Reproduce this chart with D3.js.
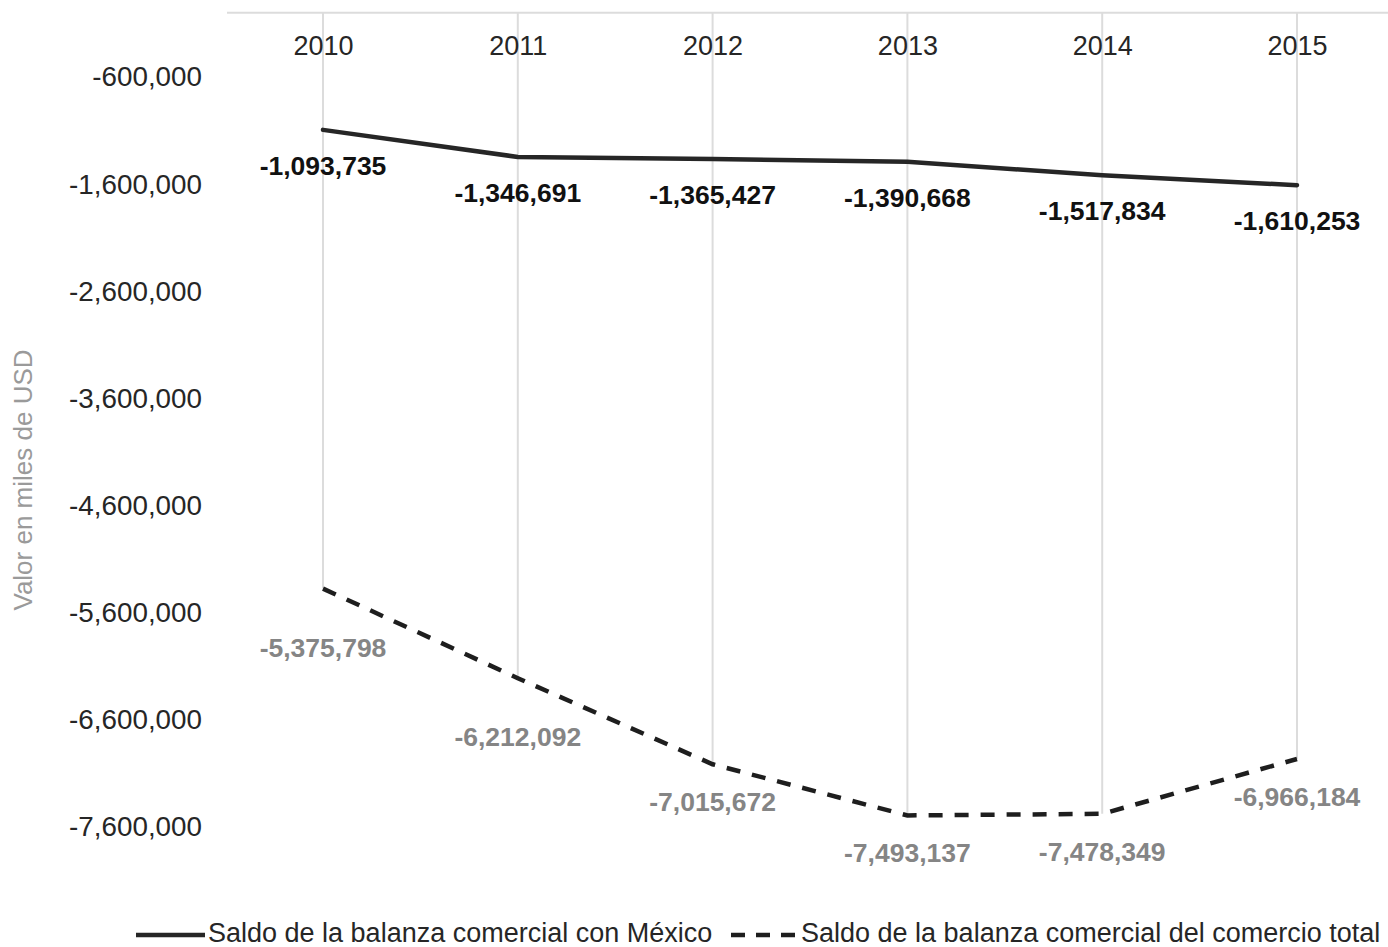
<!DOCTYPE html>
<html><head><meta charset="utf-8">
<script src="https://cdnjs.cloudflare.com/ajax/libs/d3/7.8.5/d3.min.js"></script>
<style>body{margin:0;background:#fff}svg{display:block;font-family:"Liberation Sans",Arial,sans-serif}</style>
</head><body><svg id="c" width="1388" height="947"></svg>
<script>
const years = ["2010","2011","2012","2013","2014","2015"];
const mexico = [-1093735,-1346691,-1365427,-1390668,-1517834,-1610253];
const total = [-5375798,-6212092,-7015672,-7493137,-7478349,-6966184];
const yTicks = [-600000,-1600000,-2600000,-3600000,-4600000,-5600000,-6600000,-7600000];
const seriesNames = ["Saldo de la balanza comercial con México","Saldo de la balanza comercial del comercio total"];
const totalLabelGap = [59,59,38,38,38,38];

const svg = d3.select("#c");
const x = d3.scalePoint().domain(years).range([323,1297]);
const y = d3.scaleLinear().domain([0,-8600000]).range([12.7,934]);
const fmt = d3.formatLocale({decimal:".",thousands:",",grouping:[3],currency:["$",""],minus:"-"}).format(",");

svg.append("line").attr("x1",227).attr("x2",1388).attr("y1",y(0)).attr("y2",y(0))
  .attr("stroke","#dcdcdc").attr("stroke-width",2);
svg.selectAll(".drop").data(years).join("line")
  .attr("x1",d=>x(d)).attr("x2",d=>x(d)).attr("y1",y(0))
  .attr("y2",(d,i)=>y(Math.min(mexico[i],total[i])))
  .attr("stroke","#dcdcdc").attr("stroke-width",2);

const xa = svg.append("g").attr("transform",`translate(0,${y(0)})`)
  .call(d3.axisBottom(x).tickSize(0).tickPadding(0));
xa.select(".domain").remove();
xa.selectAll("text").attr("dy",null).attr("y",42).attr("font-size",27)
  .attr("fill","#262626").attr("font-family","Liberation Sans, Arial, sans-serif");

const ya = svg.append("g").attr("transform","translate(202,0)")
  .call(d3.axisLeft(y).tickValues(yTicks).tickFormat(fmt).tickSize(0).tickPadding(0));
ya.select(".domain").remove();
ya.selectAll("text").attr("font-size",27.8).attr("fill","#262626")
  .attr("font-family","Liberation Sans, Arial, sans-serif");

svg.append("text").attr("transform","translate(32,480) rotate(-90)")
  .attr("text-anchor","middle").attr("font-size",26).attr("fill","#9a9a9a")
  .text("Valor en miles de USD");

const line = d3.line().x((d,i)=>x(years[i])).y(d=>y(d));
svg.append("path").datum(mexico).attr("d",line).attr("fill","none")
  .attr("stroke","#262626").attr("stroke-width",4.5).attr("stroke-linecap","round");
svg.append("path").datum(total).attr("d",line).attr("fill","none")
  .attr("stroke","#1e1e1e").attr("stroke-width",4.5).attr("stroke-dasharray","14,12");

svg.selectAll(".lm").data(mexico).join("text")
  .attr("x",(d,i)=>x(years[i])).attr("y",d=>y(d)+45)
  .attr("text-anchor","middle").attr("font-size",26.5).attr("font-weight","bold")
  .attr("fill","#111").text(d=>fmt(d));
svg.selectAll(".lt").data(total).join("text")
  .attr("x",(d,i)=>x(years[i])).attr("y",(d,i)=>y(d)+totalLabelGap[i]+9)
  .attr("text-anchor","middle").attr("font-size",26.5).attr("font-weight","bold")
  .attr("fill","#858585").text(d=>fmt(d));

const lg = svg.append("g");
lg.append("line").attr("x1",136).attr("x2",205).attr("y1",935).attr("y2",935)
  .attr("stroke","#262626").attr("stroke-width",4.5);
lg.append("text").attr("x",208).attr("y",942).attr("font-size",27).attr("fill","#262626").text(seriesNames[0]);
lg.append("line").attr("x1",731).attr("x2",797).attr("y1",935).attr("y2",935)
  .attr("stroke","#1e1e1e").attr("stroke-width",4.5).attr("stroke-dasharray","14,11");
lg.append("text").attr("x",801).attr("y",942).attr("font-size",27).attr("fill","#262626").text(seriesNames[1]);
</script></body></html>
